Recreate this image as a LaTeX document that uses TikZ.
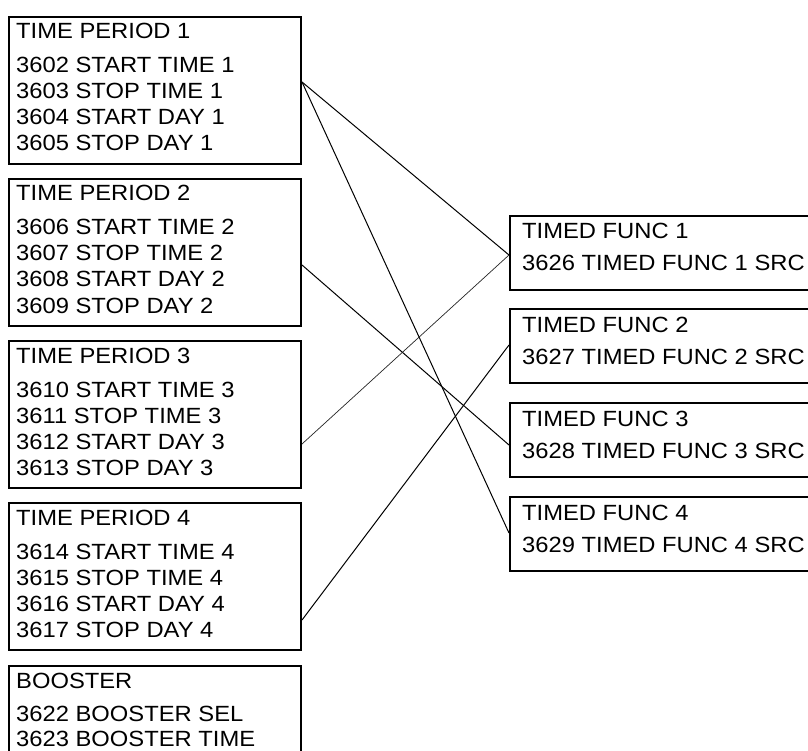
\documentclass[tikz,border=0pt]{standalone}
\usepackage{fontspec}
\setmainfont{Liberation Sans}[FakeStretch=1.08]
\usetikzlibrary{calc}
\usepackage{xcolor}
\definecolor{Ink}{HTML}{000000}

\begin{document}
\begin{tikzpicture}[x=1pt,y=-1pt,
  pbox/.style={draw=Ink,line width=2pt,anchor=north west,inner sep=0pt,minimum width=292pt,minimum height=147pt},
  fbox/.style={draw=Ink,line width=2pt,anchor=north west,inner sep=0pt,minimum width=320pt,minimum height=74pt},
  txt/.style={anchor=base west,inner sep=0pt,text=Ink,font=\fontsize{22}{26}\selectfont},
  wire/.style={Ink,line width=1pt},
  thinwire/.style={Ink!85,line width=0.7pt}]
\useasboundingbox (0,0) rectangle (808,751);
\clip (0,0) rectangle (808,751);
% parameter groups on the left
\node[pbox] (p1) at (8,16) {};
\node[pbox] (p2) at (8,178) {};
\node[pbox] (p3) at (8,340) {};
\node[pbox] (p4) at (8,502) {};
\node[pbox] (p5) at (8,665) {};
\node[txt] (p1t) at ($(p1.north west)+(8,23)$) {TIME PERIOD 1};
\node[txt] (p1a) at ($(p1.north west)+(8,57)$) {3602 START TIME 1};
\node[txt] (p1b) at ($(p1.north west)+(8,83)$) {3603 STOP TIME 1};
\node[txt] (p1c) at ($(p1.north west)+(8,109)$) {3604 START DAY 1};
\node[txt] (p1d) at ($(p1.north west)+(8,135)$) {3605 STOP DAY 1};
\node[txt] (p2t) at ($(p2.north west)+(8,23)$) {TIME PERIOD 2};
\node[txt] (p2a) at ($(p2.north west)+(8,57)$) {3606 START TIME 2};
\node[txt] (p2b) at ($(p2.north west)+(8,83)$) {3607 STOP TIME 2};
\node[txt] (p2c) at ($(p2.north west)+(8,109)$) {3608 START DAY 2};
\node[txt] (p2d) at ($(p2.north west)+(8,135)$) {3609 STOP DAY 2};
\node[txt] (p3t) at ($(p3.north west)+(8,23)$) {TIME PERIOD 3};
\node[txt] (p3a) at ($(p3.north west)+(8,57)$) {3610 START TIME 3};
\node[txt] (p3b) at ($(p3.north west)+(8,83)$) {3611 STOP TIME 3};
\node[txt] (p3c) at ($(p3.north west)+(8,109)$) {3612 START DAY 3};
\node[txt] (p3d) at ($(p3.north west)+(8,135)$) {3613 STOP DAY 3};
\node[txt] (p4t) at ($(p4.north west)+(8,23)$) {TIME PERIOD 4};
\node[txt] (p4a) at ($(p4.north west)+(8,57)$) {3614 START TIME 4};
\node[txt] (p4b) at ($(p4.north west)+(8,83)$) {3615 STOP TIME 4};
\node[txt] (p4c) at ($(p4.north west)+(8,109)$) {3616 START DAY 4};
\node[txt] (p4d) at ($(p4.north west)+(8,135)$) {3617 STOP DAY 4};
\node[txt] (p5t) at ($(p5.north west)+(8,23)$) {BOOSTER};
\node[txt] (p5a) at ($(p5.north west)+(8,56)$) {3622 BOOSTER SEL};
\node[txt] (p5b) at ($(p5.north west)+(8,81)$) {3623 BOOSTER TIME};
% timed functions on the right
\node[fbox] (f1) at (509,215) {};
\node[fbox] (f2) at (509,308) {};
\node[fbox] (f3) at (509,402) {};
\node[fbox] (f4) at (509,496) {};
\node[txt] (f1t) at ($(f1.north west)+(13,24)$) {TIMED FUNC 1};
\node[txt] (f1a) at ($(f1.north west)+(13,56)$) {3626 TIMED FUNC 1 SRC};
\node[txt] (f2t) at ($(f2.north west)+(13,24)$) {TIMED FUNC 2};
\node[txt] (f2a) at ($(f2.north west)+(13,56)$) {3627 TIMED FUNC 2 SRC};
\node[txt] (f3t) at ($(f3.north west)+(13,24)$) {TIMED FUNC 3};
\node[txt] (f3a) at ($(f3.north west)+(13,56)$) {3628 TIMED FUNC 3 SRC};
\node[txt] (f4t) at ($(f4.north west)+(13,24)$) {TIMED FUNC 4};
\node[txt] (f4a) at ($(f4.north west)+(13,56)$) {3629 TIMED FUNC 4 SRC};
% ports
\coordinate (p1o) at ($(p1.north east)+(0,66)$);
\coordinate (p2o) at ($(p2.north east)+(0,87)$);
\coordinate (p3o) at ($(p3.north east)+(0,104)$);
\coordinate (p4o) at ($(p4.north east)+(0,118)$);
\coordinate (f1i) at ($(f1.north west)+(0,40)$);
\coordinate (f2i) at ($(f2.north west)+(0,37)$);
\coordinate (f3i) at ($(f3.north west)+(0,43)$);
\coordinate (f4i) at ($(f4.north west)+(0,37)$);
% connections
\draw[wire] (p1o) -- (f1i);
\draw[wire] (p1o) -- (f4i);
\draw[wire] (p2o) -- (f3i);
\draw[thinwire] (p3o) -- (f1i);
\draw[wire] (p4o) -- (f2i);
\end{tikzpicture}
\end{document}
